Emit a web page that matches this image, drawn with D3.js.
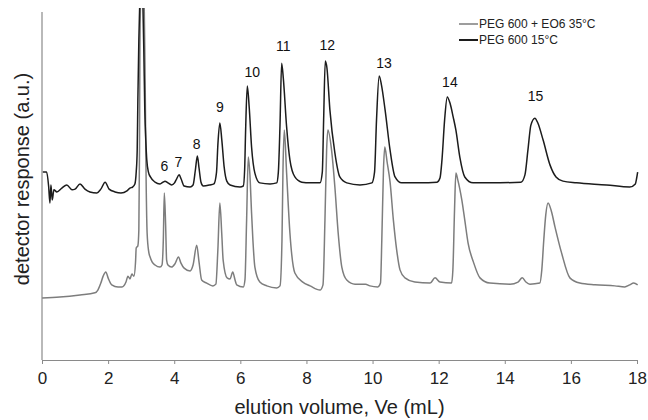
<!DOCTYPE html>
<html><head><meta charset="utf-8">
<script src="https://cdn.jsdelivr.net/npm/d3@7"></script>
<style>body{margin:0;background:#fff}svg{display:block;font-family:"Liberation Sans",Arial,sans-serif}</style>
</head><body><svg id="c" width="648" height="420"></svg>
<script>
// ---- data (elution volume in mL, detector response in a.u.) ----
const blackX = [0.02,0.14,0.20,0.24,0.27,0.31,0.36,0.45,0.60,0.75,0.91,1.00,1.15,1.30,1.45,1.66,1.78,1.91,2.03,2.21,2.39,2.57,2.66,2.74,2.81,2.85,2.88,2.90,2.93,2.96,3.00,3.05,3.08,3.11,3.14,3.17,3.22,3.28,3.42,3.57,3.66,3.72,3.81,3.92,4.01,4.07,4.15,4.21,4.30,4.48,4.57,4.64,4.70,4.75,4.81,4.88,5.08,5.20,5.28,5.32,5.38,5.44,5.51,5.59,5.69,5.99,6.09,6.13,6.16,6.21,6.27,6.34,6.44,6.59,6.90,7.10,7.15,7.20,7.25,7.30,7.40,7.50,7.65,7.86,8.11,8.41,8.48,8.52,8.57,8.62,8.71,8.86,9.01,9.22,9.62,9.98,10.06,10.12,10.20,10.27,10.38,10.53,10.68,10.88,11.43,11.95,12.04,12.10,12.18,12.26,12.34,12.44,12.52,12.64,12.79,13.04,13.55,14.49,14.61,14.70,14.79,14.91,15.00,15.16,15.37,15.55,15.76,16.17,17.08,17.78,17.95,17.99,18.02];
const blackY = [54.0,54.0,50.0,45.1,50.3,46.0,48.9,48.3,49.4,50.3,48.9,49.1,50.6,49.1,48.3,48.0,49.1,51.1,49.1,48.3,48.0,48.6,49.4,49.7,50.6,54.0,60.3,74.7,92.0,103.4,125.0,103.4,89.1,71.8,63.2,57.5,54.0,52.6,51.1,50.6,51.1,51.4,50.9,50.3,50.9,52.0,53.2,52.0,50.0,49.7,50.3,54.6,58.6,55.2,51.1,50.0,50.3,50.6,54.0,61.8,68.1,63.2,55.5,51.4,50.3,49.7,50.0,54.6,66.1,78.7,72.4,61.2,53.7,50.9,50.6,50.9,54.0,67.5,85.3,81.0,67.0,57.5,52.6,51.1,50.9,50.9,54.0,69.0,85.9,83.9,71.8,59.5,52.6,50.9,50.3,50.9,54.0,69.0,81.6,79.0,71.8,60.3,52.6,50.9,50.9,51.1,52.3,57.5,69.0,75.6,73.9,69.8,66.1,58.3,52.6,50.9,50.9,51.1,53.2,60.3,67.5,69.5,68.1,63.2,56.0,52.6,51.4,50.9,50.3,49.7,50.6,52.3,54.0];

const grayX = [0.00,0.54,1.15,1.60,1.69,1.78,1.85,1.93,2.00,2.11,2.30,2.42,2.54,2.60,2.66,2.72,2.78,2.83,2.85,2.90,2.93,2.95,2.96,2.98,3.02,3.09,3.12,3.15,3.18,3.23,3.27,3.33,3.42,3.57,3.63,3.67,3.70,3.74,3.77,3.81,3.92,4.02,4.13,4.20,4.30,4.48,4.57,4.68,4.75,4.83,4.98,5.17,5.26,5.32,5.38,5.44,5.48,5.60,5.69,5.77,5.84,5.89,6.09,6.14,6.19,6.24,6.29,6.34,6.38,6.44,6.59,6.80,7.10,7.20,7.26,7.29,7.33,7.40,7.50,7.65,7.89,8.11,8.41,8.50,8.56,8.61,8.65,8.76,8.86,8.96,9.07,9.22,9.47,9.79,9.92,10.16,10.24,10.28,10.33,10.37,10.44,10.53,10.63,10.73,10.83,10.98,11.28,11.74,11.89,12.04,12.39,12.43,12.48,12.52,12.58,12.70,12.79,12.89,13.05,13.25,13.55,14.16,14.40,14.53,14.64,14.76,15.06,15.12,15.18,15.24,15.31,15.40,15.52,15.72,15.97,16.27,16.73,17.33,17.63,17.78,17.90,18.02];
const grayY = [17.8,18.1,18.7,19.3,20.1,22.1,24.1,25.3,23.6,21.6,21.0,21.0,22.4,24.1,23.3,24.7,24.1,28.2,32.2,32.8,37.4,60.3,86.2,103.4,120.0,103.4,80.5,51.7,36.5,31.0,29.6,28.2,27.3,26.7,27.3,34.5,48.0,38.8,28.7,27.3,26.7,27.6,29.6,27.9,26.4,25.6,27.3,33.0,28.2,23.0,22.1,21.3,21.8,31.6,45.1,35.9,28.7,23.6,23.3,25.3,23.0,21.6,21.0,23.0,40.2,58.3,53.2,42.2,34.5,26.7,22.4,21.3,20.7,21.3,34.5,54.6,66.1,53.7,36.5,25.0,22.4,21.3,20.1,21.6,40.2,60.3,66.1,60.3,49.7,36.5,26.7,23.0,21.8,21.8,21.3,21.0,22.1,34.5,54.6,61.2,56.9,51.1,40.2,31.6,25.9,23.6,22.4,22.1,23.6,22.4,22.1,25.9,43.1,53.7,51.7,46.0,40.2,33.6,28.2,23.6,22.1,21.8,22.4,23.6,22.4,21.8,22.1,25.9,34.5,41.7,45.1,43.1,38.2,30.7,23.6,22.1,21.6,21.3,21.0,21.6,22.1,21.6];

const peakLabels = ["6","7","8","9","10","11","12","13","14","15"];
const labelX = [3.70,4.13,4.68,5.38,6.36,7.30,8.63,10.35,12.34,14.93];
const labelY = [55.7,56.9,62.1,72.7,82.8,90.2,90.5,85.3,79.9,75.9];

const seriesNames = ["PEG 600 + EO6 35\u00B0C","PEG 600 15\u00B0C"];
const xTicks = [0,2,4,6,8,10,12,14,16,18];

// ---- layout ----
const W=648,H=420, m={l:42,r:11,t:12,b:60};
const svg=d3.select("#c");
const x=d3.scaleLinear().domain([0,18]).range([m.l,W-m.r]);
const y=d3.scaleLinear().domain([0,100]).range([H-m.b,m.t]);

svg.append("defs").append("clipPath").attr("id","clip")
  .append("rect").attr("x",m.l).attr("y",m.t-4).attr("width",W-m.l-m.r+3).attr("height",H-m.t-m.b+4);

const line=d3.line().x(d=>x(d[0])).y(d=>y(d[1])).curve(d3.curveMonotoneX);
const gray=grayX.map((v,i)=>[v,grayY[i]]);
const black=blackX.map((v,i)=>[v,blackY[i]]);

const g=svg.append("g").attr("clip-path","url(#clip)");
g.append("path").datum(gray).attr("d",line).attr("fill","none").attr("stroke","#7d7d7d").attr("stroke-width",1.5).attr("stroke-linejoin","round");
g.append("path").datum(black).attr("d",line).attr("fill","none").attr("stroke","#1c1c1c").attr("stroke-width",1.5).attr("stroke-linejoin","round");

// axes
const xa=svg.append("g").attr("transform",`translate(0,${H-m.b})`)
  .call(d3.axisBottom(x).tickValues(xTicks).tickFormat(d3.format("d")).tickSizeInner(4).tickSizeOuter(0));
xa.select(".domain").attr("stroke","#8a8a8a").attr("stroke-width",1.2);
xa.selectAll(".tick line").attr("stroke","#8a8a8a");
xa.selectAll(".tick text").attr("font-size",17).attr("fill","#222").attr("dy","1.0em").attr("font-family","Liberation Sans, Arial, sans-serif");

svg.append("line").attr("x1",x(0)).attr("x2",x(0)).attr("y1",m.t).attr("y2",H-m.b).attr("stroke","#8a8a8a").attr("stroke-width",1.2);

svg.append("text").attr("x",(x(0)+x(18))/2).attr("y",414).attr("text-anchor","middle")
  .attr("font-size",20).attr("fill","#222").text("elution volume, Ve (mL)");
svg.append("text").attr("transform",`translate(29,179) rotate(-90)`).attr("text-anchor","middle")
  .attr("font-size",20).attr("fill","#222").text("detector response (a.u.)");

// peak labels
svg.append("g").selectAll("text").data(peakLabels).join("text")
  .attr("x",(d,i)=>x(labelX[i])).attr("y",(d,i)=>y(labelY[i])).attr("dy","0.35em")
  .attr("text-anchor","middle").attr("font-size",14).attr("fill","#111").text(d=>d);

// legend
const lg=svg.append("g").attr("transform","translate(459,24)");
const lcol=["#7d7d7d","#1c1c1c"];
seriesNames.forEach((n,i)=>{
  lg.append("line").attr("x1",0).attr("x2",19).attr("y1",i*16).attr("y2",i*16).attr("stroke",lcol[i]).attr("stroke-width",i?2:1.5);
  lg.append("text").attr("x",20).attr("y",i*16).attr("dy","0.35em").attr("font-size",12).attr("fill","#222").text(n);
});
</script></body></html>
